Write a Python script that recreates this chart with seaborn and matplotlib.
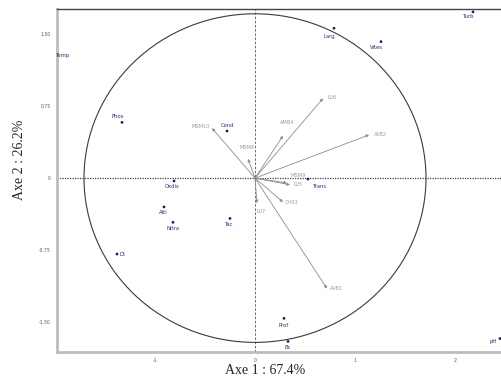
import matplotlib
matplotlib.use("Agg")
import matplotlib.pyplot as plt
import seaborn as sns
import pandas as pd
from matplotlib.patches import Circle

# individuals (row scores)
ind_names = ["Phos", "Cond", "Oxdis", "Alti", "Nitra", "Tac", "Dt", "Prof",
             "Bc", "pH", "Turb", "Larg", "Vites", "Trans", "Temp"]
ind_x = [-1.33, -0.28, -0.81, -0.91, -0.82, -0.25, -1.38, 0.29,
         0.33, 2.45, 2.18, 0.79, 1.26, 0.53, -2.05]
ind_y = [0.58, 0.49, -0.03, -0.30, -0.46, -0.42, -0.79, -1.46,
         -1.70, -1.67, 1.73, 1.56, 1.42, -0.01, 1.30]

# variables (arrows)
var_names = ["MSM10", "MSM8", "AMB4", "LU6", "AVB2", "MSM9", "LU5", "CHX3", "LU7", "AVB1"]
var_x = [-0.43, -0.07, 0.28, 0.68, 1.14, 0.32, 0.35, 0.28, 0.02, 0.72]
var_y = [0.52, 0.20, 0.44, 0.83, 0.45, -0.05, -0.07, -0.25, -0.26, -1.15]

circle_r = 1.71
xticks = [-1, 0, 1, 2]
xtick_labels = ["-1", "0", "1", "2"]
yticks = [-1.5, -0.75, 0, 0.75, 1.5]
ytick_labels = ["-1.50", "-0.75", "0", "0.75", "1.50"]

# label offsets in pixels
ind_off = {"Phos": (-4, 6), "Cond": (0, 6), "Oxdis": (-2, -6), "Alti": (-1, -6),
           "Nitra": (0, -6), "Tac": (-1, -6), "Dt": (6, 0), "Prof": (0, -7),
           "Bc": (0, -6), "pH": (-7, -3), "Turb": (-4, -5), "Larg": (-5, -8),
           "Vites": (-4, -6), "Trans": (12, -7), "Temp": (13, -2)}
var_off = {"MSM10": (-11, 2), "MSM8": (-1, 11), "AMB4": (4, 13), "LU6": (9, 1),
           "AVB2": (11, 0), "MSM9": (11, 7), "LU5": (8, 0), "CHX3": (9, 0),
           "LU7": (4, -8), "AVB1": (9, 0)}

sns.set_style("white")
plt.rcParams['font.family'] = ['DejaVu Sans']

fig = plt.figure(figsize=(5.01, 3.81), dpi=100)
ax = fig.add_axes([57 / 501, 1 - 352 / 381, 444 / 501, 343 / 381])

ind = pd.DataFrame({"x": ind_x, "y": ind_y, "name": ind_names})
sns.scatterplot(data=ind, x="x", y="y", ax=ax, color="#1c1c7a", s=4,
                edgecolor="none", zorder=4)

navy = "#2b2b80"
for n, x, y in zip(ind_names, ind_x, ind_y):
    dx, dy = ind_off[n]
    ax.annotate(n, (x, y), xytext=(dx, dy), textcoords="offset pixels",
                ha="center", va="center", fontsize=3.8, color=navy,
                annotation_clip=False)

# arrows
for n, x, y in zip(var_names, var_x, var_y):
    ax.annotate("", xy=(x, y), xytext=(0, 0),
                arrowprops=dict(arrowstyle="-|>", color="#8c8c8c", lw=0.6,
                                mutation_scale=4, shrinkA=0, shrinkB=0))
    dx, dy = var_off[n]
    ax.annotate(n, (x, y), xytext=(dx, dy), textcoords="offset pixels",
                ha="center", va="center", fontsize=3.6, color="#9a9a9a")

ax.add_patch(Circle((0, 0), circle_r, fill=False, color="#3a3a3a", lw=0.8))
ax.axhline(0, color="#444444", lw=0.9, ls=(0, (1, 1)), zorder=1)
ax.axvline(0, color="#555555", lw=0.6, ls=(0, (3, 2)), zorder=1)

ax.set_xlim(-1.98, 2.46)
ax.set_ylim(-1.81, 1.76)
ax.set_xticks(xticks)
ax.set_xticklabels(xtick_labels)
ax.set_yticks(yticks)
ax.set_yticklabels(ytick_labels)
ax.tick_params(axis="both", labelsize=3.3, labelcolor="#7b3f7b", length=2.5,
               width=0.6, color="#666666", direction="out", pad=2)

for side in ["left", "bottom"]:
    ax.spines[side].set_color("#bdbdbd")
    ax.spines[side].set_linewidth(2)
ax.spines["top"].set_color("#444444")
ax.spines["top"].set_linewidth(1)
ax.spines["right"].set_visible(False)

ax.set_xlabel("Axe 1 : 67.4%", family="Liberation Serif", fontsize=10)
ax.set_ylabel("Axe 2 : 26.2%", family="Liberation Serif", fontsize=10)
ax.xaxis.set_label_coords((265 - 57) / 444, -0.036)
ax.yaxis.set_label_coords(-0.07, (352 - 160) / 343)

fig.savefig("out.png", dpi=100)
